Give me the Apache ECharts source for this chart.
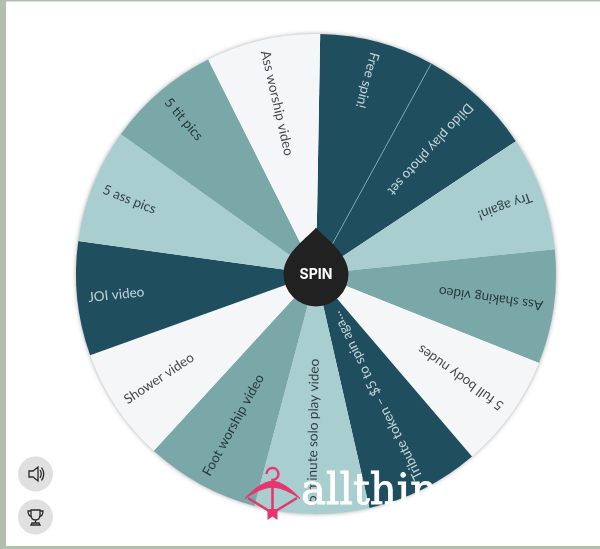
<!DOCTYPE html>
<html>
<head>
<meta charset="utf-8">
<title>Spin wheel</title>
<script src="https://cdn.jsdelivr.net/npm/echarts@6/dist/echarts.min.js"></script>
<style>
html,body{margin:0;padding:0;background:#fff;}
#chart{width:600px;height:549px;}
</style>
</head>
<body>
<div id="chart"></div>
<script>
// wheel slices, clockwise from the top
var categories = ['Free spin!', 'Dildo play photo set', 'Try again!', 'Ass shaking video', '5 full body nudes',
	'Tribute token – $5 to spin aga...', '5 minute solo play video', 'Foot worship video', 'Shower video',
	'JOI video', '5 ass pics', '5 tit pics', 'Ass worship video'];
var sliceValues = [1, 1, 1, 1, 1, 1, 1, 1, 1, 1, 1, 1, 1];

var DARK = '#1f4e5f', MID = '#7aa8a9', LIGHT = '#a9ced0', PALE = '#f4f6f8';
var sliceColors = [DARK, DARK, LIGHT, MID, PALE, DARK, LIGHT, MID, PALE, DARK, LIGHT, MID, PALE];

var CX = 316, CY = 274, R = 240, TILT = 1;
var step = 360 / categories.length;

var myChart = echarts.init(document.getElementById('chart'));

var pieData = categories.map(function (name, i) {
	return { name: name, value: sliceValues[i], itemStyle: { color: sliceColors[i] } };
});

// labels sit near the rim and read toward the hub
var labelData = categories.map(function (name, i) {
	var a = step * (i + 0.5);
	return {
		name: name,
		value: [229, a],
		label: {
			rotate: 270 - (a + TILT),
			color: sliceColors[i] === DARK ? '#eef3f5' : '#15191b'
		}
	};
});

function pathEl(d, style) {
	return { type: 'path', shape: { pathData: d }, style: style };
}

// hub, side buttons and watermark, all on top of the wheel
function renderOverlay() {
	var line = { fill: 'none', stroke: '#2a2a2a', lineWidth: 1.3 };
	var pink = '#e8356f';
	return {
		type: 'group',
		children: [
			pathEl('M316 227.5 C322 236 348.5 252 348.5 274 A32.5 32.5 0 0 1 283.5 274 C283.5 252 310 236 316 227.5 Z', { fill: '#212121' }),
			{ type: 'text', style: { x: 316, y: 274.5, text: 'SPIN', fill: '#fff', font: 'bold 14px Inter', align: 'center', verticalAlign: 'middle',
				shadowBlur: 3, shadowColor: 'rgba(0,0,0,.8)', shadowOffsetY: 1 } },
			{ type: 'ellipse', shape: { cx: 35.5, cy: 474, rx: 17.5, ry: 17.5 }, style: { fill: '#e0e0e0' } },
			{ type: 'ellipse', shape: { cx: 35.5, cy: 517, rx: 17.5, ry: 17.5 }, style: { fill: '#e0e0e0' } },
			pathEl('M29 471 L33 471 L38 467 L38 481 L33 477 L29 477 Z M40 470 Q42.5 474 40 478 M41.5 467.5 Q46 474 41.5 480.5', line),
			pathEl('M31 510 L40 510 L40 515 Q40 520 35.5 520 Q31 520 31 515 Z M31 511 L28 511 Q28 516 32 517 M40 511 L43 511 Q43 516 39 517 M35.5 520 L35.5 523 M31 525 L40 525 L39 523 L32 523 Z', line),
			{ type: 'text', style: { x: 301, y: 493, text: 'allthingsworn', fill: '#fff', stroke: '#fff', lineWidth: 0.8, font: '42px "DejaVu Serif"', align: 'left', verticalAlign: 'middle' } },
			pathEl('M266.5 474 A6 6 0 1 1 272.5 480 L272.5 484', { fill: 'none', stroke: pink, lineWidth: 2.4 }),
			pathEl('M248 498 L272.5 513 L297 498 M272.5 484 L272.5 515', { fill: 'none', stroke: pink, lineWidth: 2.6 }),
			pathEl('M245 498.5 Q260 482 272.5 481 Q285 482 300 498.5 Q285 488 272.5 487 Q260 488 245 498.5 Z', { fill: pink, stroke: pink, lineWidth: 1 }),
			pathEl('M267.5 509 L277.5 509 L277.5 520 L272.5 516.5 L267.5 520 Z', { fill: pink })
		]
	};
}

var option = {
	backgroundColor: '#fff',
	animation: false,
	polar: { center: [CX, CY], radius: R },
	angleAxis: { type: 'value', min: 0, max: 360, startAngle: 90 - TILT, clockwise: true, show: false },
	radiusAxis: { type: 'value', min: 0, max: R, show: false },
	graphic: [
		// page frame
		{ type: 'rect', shape: { x: 0, y: 0, width: 6, height: 549 }, style: { fill: '#b2bfae' } },
		{ type: 'rect', shape: { x: 0, y: 0, width: 600, height: 1.5 }, style: { fill: '#b2bfae' } },
		{ type: 'rect', shape: { x: 0, y: 546, width: 600, height: 3 }, style: { fill: '#b2bfae' } },
		// soft shadow under the wheel
		{ type: 'circle', z: 0, shape: { cx: CX, cy: CY, r: R - 0.5 }, style: { fill: '#fff', shadowBlur: 5, shadowColor: 'rgba(0,0,0,.4)' } }
	],
	series: [
		{
			type: 'pie',
			center: [CX, CY],
			radius: [0, R],
			startAngle: 90 - TILT,
			clockwise: true,
			z: 2,
			silent: true,
			label: { show: false },
			labelLine: { show: false },
			data: pieData
		},
		{
			// hairline between the two dark slices
			type: 'line',
			coordinateSystem: 'polar',
			z: 3,
			silent: true,
			symbol: 'none',
			lineStyle: { color: '#8fb0ba', width: 0.8 },
			data: [[30, step], [R, step]]
		},
		{
			type: 'scatter',
			coordinateSystem: 'polar',
			symbolSize: 1,
			z: 5,
			silent: true,
			itemStyle: { color: 'transparent' },
			label: {
				show: true,
				position: 'inside',
				formatter: '{b}',
				align: 'left',
				verticalAlign: 'middle',
				fontFamily: 'Lato',
				fontSize: 13.5
			},
			data: labelData
		},
		{
			type: 'custom',
			coordinateSystem: 'none',
			z: 10,
			silent: true,
			renderItem: renderOverlay,
			data: [0]
		}
	]
};

myChart.setOption(option);
</script>
</body>
</html>
